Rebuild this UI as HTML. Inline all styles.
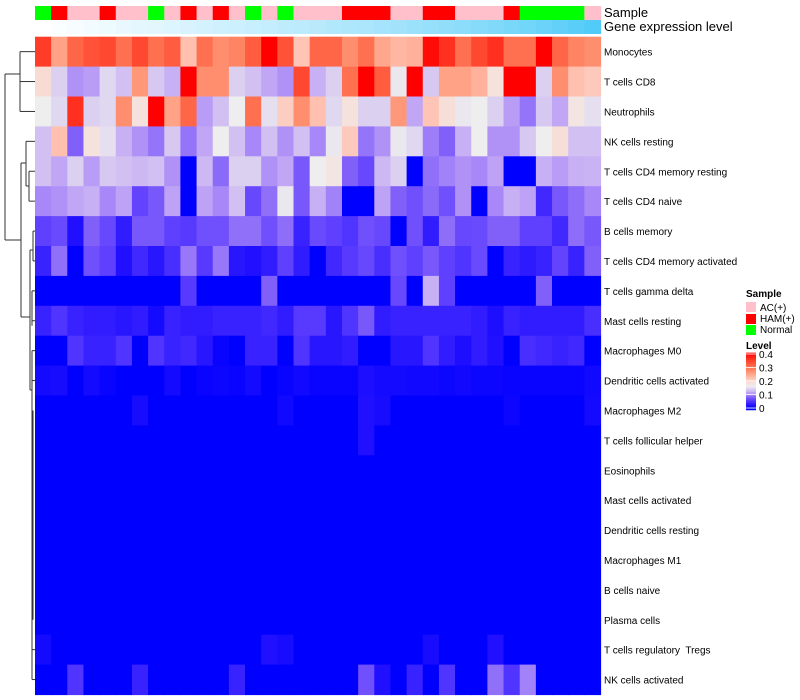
<!DOCTYPE html>
<html><head><meta charset="utf-8"><style>
html,body{margin:0;padding:0;background:#fff;width:800px;height:700px;overflow:hidden}
svg text{font-family:"Liberation Sans",sans-serif;fill:#000;white-space:pre}
</style></head><body>
<svg id="chart" width="800" height="700" viewBox="0 0 800 700" xmlns="http://www.w3.org/2000/svg">
<g id="dendro" stroke="#333" stroke-width="1" fill="none"></g>
<g id="anno"></g>
<g id="cells"></g>
<g id="labels"></g>
<text x="604" y="17" font-size="13">Sample</text>
<text x="604" y="31" font-size="13">Gene expression level</text>
<g id="legend">
<text x="746" y="297" font-size="10" font-weight="bold">Sample</text>
<rect x="746" y="302" width="10" height="10" fill="#FFC0CB"/>
<text x="760" y="311" font-size="10">AC(+)</text>
<rect x="746" y="314" width="10" height="10" fill="#FF0000"/>
<text x="760" y="322" font-size="10">HAM(+)</text>
<rect x="746" y="325" width="10" height="10" fill="#00FF00"/>
<text x="760" y="333" font-size="10">Normal</text>
<text x="746" y="349" font-size="10" font-weight="bold">Level</text>
<g id="cbar"></g>
</g>
</svg>
<script>
const rowNames=["Monocytes","T cells CD8","Neutrophils","NK cells resting","T cells CD4 memory resting","T cells CD4 naive","B cells memory","T cells CD4 memory activated","T cells gamma delta","Mast cells resting","Macrophages M0","Dendritic cells activated","Macrophages M2","T cells follicular helper","Eosinophils","Mast cells activated","Dendritic cells resting","Macrophages M1","B cells naive","Plasma cells","T cells regulatory  Tregs","NK cells activated"];
const sampleGroups=["N","H","A","A","H","A","A","N","A","H","A","H","A","N","A","N","A","A","A","H","H","H","A","A","H","H","A","A","A","H","N","N","N","N","A"];
const geneLevel=[0.0,0.02,0.05,0.07,0.1,0.12,0.14,0.16,0.19,0.21,0.24,0.26,0.28,0.3,0.32,0.35,0.37,0.39,0.42,0.44,0.46,0.49,0.51,0.54,0.57,0.6,0.63,0.66,0.69,0.73,0.77,0.81,0.85,0.9,0.95];
const legendTicks=[0,0.1,0.2,0.3,0.4];
const rMono=[0.35,0.25,0.31,0.33,0.34,0.30,0.34,0.30,0.32,0.22,0.30,0.27,0.28,0.32,0.40,0.33,0.215,0.31,0.31,0.27,0.30,0.245,0.23,0.235,0.39,0.36,0.30,0.34,0.36,0.30,0.30,0.40,0.31,0.28,0.27];
const rCD8=[0.19,0.14,0.105,0.11,0.145,0.13,0.26,0.135,0.12,0.40,0.27,0.27,0.14,0.13,0.115,0.105,0.34,0.12,0.14,0.30,0.40,0.32,0.155,0.40,0.135,0.25,0.25,0.235,0.18,0.40,0.40,0.14,0.27,0.22,0.21];
const rNeut=[0.16,0.145,0.36,0.14,0.145,0.27,0.18,0.40,0.25,0.31,0.11,0.13,0.16,0.30,0.15,0.205,0.27,0.22,0.145,0.18,0.14,0.14,0.26,0.115,0.215,0.185,0.155,0.16,0.14,0.11,0.09,0.135,0.115,0.175,0.15];
const rNKr=[0.13,0.22,0.08,0.18,0.15,0.12,0.105,0.09,0.135,0.09,0.115,0.16,0.13,0.10,0.13,0.105,0.13,0.10,0.155,0.21,0.09,0.105,0.155,0.145,0.095,0.08,0.12,0.16,0.105,0.105,0.135,0.16,0.185,0.13,0.13];
const rCD4mr=[0.13,0.115,0.14,0.11,0.135,0.13,0.125,0.13,0.105,0,0.125,0.085,0.14,0.14,0.105,0.115,0.075,0.16,0.175,0.08,0.065,0.125,0.14,0,0.088,0.097,0.105,0.10,0.113,0,0,0.12,0.11,0.12,0.122];
const rCD4n=[0.10,0.105,0.115,0.12,0.10,0.113,0.062,0.075,0.113,0,0.113,0.10,0.13,0.065,0.088,0.155,0.075,0.12,0.097,0,0,0.113,0.08,0.07,0.085,0.07,0.105,0,0.10,0.12,0.113,0.04,0.075,0.087,0.10];
const rBmem=[0.06,0.066,0.02,0.08,0.065,0.03,0.075,0.075,0.06,0.055,0.07,0.07,0.088,0.088,0.07,0.087,0.035,0.066,0.06,0.05,0.07,0.065,0,0.07,0.03,0.087,0.065,0.066,0.08,0.08,0.06,0.06,0.04,0.087,0.075];
const rCD4ma=[0.035,0.088,0,0.07,0.06,0.02,0.04,0.025,0.045,0.092,0.055,0.092,0.025,0.02,0.03,0.06,0.03,0,0.04,0.055,0.065,0.045,0.07,0.06,0.075,0.06,0.05,0.066,0,0.035,0.028,0.035,0.062,0.035,0.08];
const rGd=[0,0,0,0,0,0,0,0,0,0.055,0,0,0,0,0.08,0,0,0,0,0,0,0,0.065,0,0.12,0.06,0,0,0,0,0,0.08,0,0,0];
const rMastR=[0.035,0.05,0.035,0.03,0.03,0.025,0.03,0.012,0.035,0.03,0.03,0.035,0.035,0.035,0.04,0.03,0.055,0.055,0.025,0.05,0.075,0.03,0.035,0.035,0.035,0.035,0.035,0.03,0.018,0.035,0.03,0.03,0.03,0.03,0.045];
const rM0=[0,0,0.05,0.035,0.035,0.05,0,0.05,0.035,0.04,0.025,0.005,0,0.035,0.035,0,0.05,0.025,0.025,0.03,0,0,0.025,0.025,0.05,0.03,0.018,0.03,0.02,0,0.045,0.04,0.035,0.04,0];
const rDCa=[0.012,0.015,0,0.012,0.005,0,0,0,0.012,0,0.005,0.008,0.005,0.012,0,0.005,0.01,0.005,0.005,0.005,0.018,0.012,0.012,0.01,0.01,0.008,0.01,0.008,0.008,0.005,0.005,0.005,0.005,0.005,0.01];
const rM2=[0,0,0,0,0,0,0.015,0,0,0,0,0,0,0,0,0.01,0,0,0,0,0.02,0.015,0,0,0,0,0,0,0,0.008,0,0,0,0,0.012];
const rTfh=[0,0,0,0,0,0,0,0,0,0,0,0,0,0,0,0,0,0,0,0,0.02,0,0,0,0,0,0,0,0,0,0,0,0,0,0];
const rEos=[0,0,0,0,0,0,0,0,0,0,0,0,0,0,0,0,0,0,0,0,0,0,0,0,0,0,0,0,0,0,0,0,0,0,0];
const rMastA=[0,0,0,0,0,0,0,0,0,0,0,0,0,0,0,0,0,0,0,0,0,0,0,0,0,0,0,0,0,0,0,0,0,0,0];
const rDCr=[0,0,0,0,0,0,0,0,0,0,0,0,0,0,0,0,0,0,0,0,0,0,0,0,0,0,0,0,0,0,0,0,0,0,0];
const rM1=[0,0,0,0,0,0,0,0,0,0,0,0,0,0,0,0,0,0,0,0,0,0,0,0,0,0,0,0,0,0,0,0,0,0,0];
const rBn=[0,0,0,0,0,0,0,0,0,0,0,0,0,0,0,0,0,0,0,0,0,0,0,0,0,0,0,0,0,0,0,0,0,0,0];
const rPlasma=[0,0,0,0,0,0,0,0,0,0,0,0,0,0,0,0,0,0,0,0,0,0,0,0,0,0,0,0,0,0,0,0,0,0,0];
const rTreg=[0.012,0,0,0,0,0,0,0,0,0,0,0,0,0,0.02,0.015,0,0,0,0,0,0,0,0,0.015,0,0,0,0.02,0,0,0,0,0,0];
const rNKa=[0,0,0.05,0,0,0,0.035,0,0,0,0,0,0.035,0,0,0,0,0,0,0,0.07,0.02,0,0.035,0,0.05,0,0,0.088,0.05,0.097,0,0,0,0];
const matrix=[rMono,rCD8,rNeut,rNKr,rCD4mr,rCD4n,rBmem,rCD4ma,rGd,rMastR,rM0,rDCa,rM2,rTfh,rEos,rMastA,rDCr,rM1,rBn,rPlasma,rTreg,rNKa];

const NS="http://www.w3.org/2000/svg";
const X0=35,X1=600.5,Y0=36.7,RH=29.9;
const nCol=sampleGroups.length, CW=(X1-X0)/nCol;
const xPos=i=>X0+i*CW, yPos=r=>Y0+r*RH;
const stops=[[0,[0,0,255]],[0.02,[32,16,255]],[0.04,[64,40,255]],[0.06,[96,64,255]],[0.08,[128,96,248]],[0.10,[168,136,248]],[0.12,[200,176,244]],[0.14,[220,208,240]],[0.16,[238,238,238]],[0.19,[248,220,212]],[0.22,[255,192,176]],[0.26,[255,152,120]],[0.30,[255,112,80]],[0.34,[255,72,48]],[0.40,[255,0,0]]];
function col(v){v=Math.max(0,Math.min(0.4,v));for(let i=1;i<stops.length;i++){if(v<=stops[i][0]){const a=stops[i-1],b=stops[i],t=(v-a[0])/(b[0]-a[0]);const c=a[1].map((x,k)=>Math.round(x+(b[1][k]-x)*t));return `rgb(${c[0]},${c[1]},${c[2]})`;}}return "rgb(255,0,0)";}
function mk(tag,attrs,parent){const e=document.createElementNS(NS,tag);for(const k in attrs)e.setAttribute(k,attrs[k]);parent.appendChild(e);return e;}
const cells=document.getElementById('cells');
matrix.forEach((row,r)=>row.forEach((v,c)=>{const e=mk('rect',{x:xPos(c),y:yPos(r),width:CW+0.6,height:RH+0.6,fill:col(v)},cells);

}));
const labels=document.getElementById('labels');
rowNames.forEach((n,r)=>{const t=mk('text',{x:604,y:yPos(r)+RH/2+4,'font-size':'10'},labels);t.textContent=n;

});
const anno=document.getElementById('anno');
const gc={A:"#FFC0CB",H:"#FF0000",N:"#00FF00"};
sampleGroups.forEach((g,c)=>{const e=mk('rect',{x:xPos(c),y:6,width:CW+0.6,height:14,fill:gc[g]},anno);

});
geneLevel.forEach((v,c)=>{const r=Math.round(255+(72-255)*v),g=Math.round(255+(200-255)*v),b=Math.round(255+(248-255)*v);
const e=mk('rect',{x:xPos(c),y:20,width:CW+0.6,height:14,fill:`rgb(${r},${g},${b})`},anno);

});
const cb=document.getElementById('cbar');
const cbY=v=>408-v*135;
for(let v=-0.015;v<0.41;v+=0.005){const e=mk('rect',{x:746,y:cbY(v+0.005),width:10,height:0.9,fill:col(v)},cb);

}
legendTicks.forEach(t=>{mk('line',{x1:746,x2:756,y1:cbY(t),y2:cbY(t),stroke:'#fff','stroke-width':0.8},cb);
const tx=mk('text',{x:759,y:cbY(t)+4,'font-size':'10'},cb);tx.textContent=String(t);

});
const d=document.getElementById('dendro');
const cy=r=>yPos(r)+RH/2;
const segs=[
[20,cy(0),35,cy(0)],[20,cy(1),35,cy(1)],[20,cy(2),35,cy(2)],[20,cy(0),20,cy(2)],
[5,74,20,74],[5,74,5,240],[5,240,21,240],
[21,163,21,317],[21,163,26,163],[26,cy(3),26,186],[26,cy(3),35,cy(3)],[26,186,29,186],[29,cy(4),29,cy(5)],[29,cy(4),35,cy(4)],[29,cy(5),35,cy(5)],
[21,317,30,317],[30,250,30,390],[30,250,33,250],[33,cy(6),33,cy(7)],[33,cy(6),35,cy(6)],[33,cy(7),35,cy(7)],
[30,390,32,390],[32,cy(8),32,cy(9)+5],[32,cy(8),35,cy(8)],[32,cy(9),35,cy(9)],
[32,cy(10),32,cy(21)],[32,cy(10),35,cy(10)],[32,cy(11),35,cy(11)],[32,cy(20),35,cy(20)],[32,cy(21),35,cy(21)],
[33,cy(12),33,cy(19)]
];
segs.forEach(s=>{const l=mk('line',{x1:s[0],y1:s[1],x2:s[2],y2:s[3]},d);

});
</script>
</body></html>
